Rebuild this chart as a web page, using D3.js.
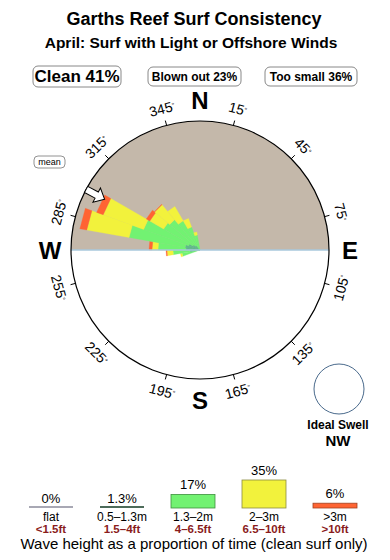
<!DOCTYPE html>
<html>
<head>
<meta charset="utf-8">
<script src="https://cdn.jsdelivr.net/npm/d3@7/dist/d3.min.js"></script>
<style>
  body { margin: 0; background: #fff; }
  svg { display: block; font-family: "Liberation Sans", Arial, Helvetica, sans-serif; }
</style>
</head>
<body>
<div id="chart"></div>
<script>
// wave height classes (legend)
const classNames = ['flat', '0.5\u20131.3m', '1.3\u20132m', '2\u20133m', '>3m'];
const feetNames = ['<1.5ft', '1.5\u20134ft', '4\u20136.5ft', '6.5\u201310ft', '>10ft'];
const classPct = [0, 1.3, 17, 35, 6];
const pctLabels = ['0%', '1.3%', '17%', '35%', '6%'];

// swell direction bins (deg) and % of time per height class
const directions = [255, 265, 275, 285, 295, 305, 315, 325, 335, 345];
const flatPct  = [0, 0, 0, 0, 0, 0, 0, 0, 0, 0];
const smallPct = [0, 0.15, 0.3, 0.34, 0.22, 0.1, 0.05, 0, 0, 0];
const midPct   = [0.5, 0.95, 2.35, 7.45, 5.19, 2.55, 2.3, 1.7, 0.9, 0.35];
const bigPct   = [0.1, 0.54, 0.81, 12.08, 10.53, 2.4, 2.9, 2.1, 0.8, 0.15];
const hugePct  = [0, 0.1, 0.45, 2.49, 2.24, 0.73, 0.1, 0, 0, 0];

const tickAngles = [15, 45, 75, 105, 135, 165, 195, 225, 255, 285, 315, 345];
const cardinals = [['N', 0], ['E', 90], ['S', 180], ['W', 270]];

const summary = [
    { text: 'Clean 41%', x: 33, w: 88, big: true },
    { text: 'Blown out 23%', x: 148, w: 93 },
    { text: 'Too small 36%', x: 265, w: 92 }
];
const meanDir = 298;
const idealSwell = 'NW';

const roseFill = ['#b0b0b8', '#5fb88c', '#72f272', '#f2f23c', '#ff6433'];
const legendStroke = ['#a8a8b4', '#4d6b5a', '#3f8f3f', '#8c8c40', '#a04020'];

const width = 390, height = 560;
const cx = 200, cy = 250, R = 129;
const rad = d => d * Math.PI / 180;

const svg = d3.select('#chart').append('svg')
    .attr('width', width)
    .attr('height', height);

// titles
svg.append('text')
    .attr('x', 194).attr('y', 25)
    .attr('text-anchor', 'middle')
    .style('font-size', '18px').style('font-weight', 'bold')
    .text('Garths Reef Surf Consistency');
svg.append('text')
    .attr('x', 191).attr('y', 48)
    .attr('text-anchor', 'middle')
    .style('font-size', '15.5px').style('font-weight', 'bold')
    .text('April: Surf with Light or Offshore Winds');

// summary boxes
let box = svg.selectAll('.summary')
    .data(summary)
    .enter().append('g')
    .attr('class', 'summary');
box.append('rect')
    .attr('x', d => d.x).attr('y', d => d.big ? 66 : 67)
    .attr('width', d => d.w).attr('height', d => d.big ? 21 : 19)
    .attr('rx', 5)
    .style('fill', 'white').style('stroke', '#888').style('stroke-width', 1);
box.append('text')
    .attr('x', d => d.x + d.w / 2).attr('y', d => d.big ? 82 : 81)
    .attr('text-anchor', 'middle')
    .style('font-size', d => d.big ? '17px' : '12px')
    .style('font-weight', 'bold')
    .text(d => d.text);

// rose
let g = svg.append('g').attr('transform', `translate(${cx},${cy})`);

g.append('path')
    .attr('d', `M${-R},0 A${R},${R} 0 0 1 ${R},0 Z`)
    .style('fill', '#c4b8aa');

let radius = d3.scaleSqrt().domain([0, 25]).range([0, R]);

let series = [flatPct, smallPct, midPct, bigPct, hugePct];
let segments = [];
directions.forEach((dir, i) => {
    let cum = 0;
    series.forEach((s, k) => {
        let v = s[i];
        if (v > 0) segments.push({ dir: dir, k: k, r0: cum, r1: cum + v });
        cum += v;
    });
});

let wedge = d3.lineRadial()
    .angle(p => rad(p[0]))
    .radius(p => radius(p[1]))
    .curve(d3.curveLinearClosed);

g.selectAll('.seg')
    .data(segments)
    .enter().append('path')
    .attr('class', 'seg')
    .attr('d', d => wedge([
        [d.dir - 5, d.r0], [d.dir - 5, d.r1],
        [d.dir + 5, d.r1], [d.dir + 5, d.r0]
    ]))
    .style('fill', d => roseFill[d.k])
    .style('stroke', d => roseFill[d.k])
    .style('stroke-width', 0.3);

// horizon
g.append('line')
    .attr('x1', -R).attr('x2', R)
    .attr('y1', 0).attr('y2', 0)
    .style('stroke', '#a8c8dc').style('stroke-width', 1.5);

g.append('circle')
    .attr('r', R)
    .style('fill', 'none').style('stroke', 'black').style('stroke-width', 1.2);

// mean direction arrow
let arrow = [[108, 0], [117, -8], [117, -3.5], [129, -3.5], [129, 3.5], [117, 3.5], [117, 8]];
g.append('path')
    .attr('d', d3.line()(arrow) + 'Z')
    .attr('transform', `rotate(${meanDir - 90})`)
    .style('fill', 'white').style('stroke', 'black').style('stroke-width', 1);

// degree ticks and labels
g.selectAll('.tick')
    .data(tickAngles)
    .enter().append('line')
    .attr('class', 'tick')
    .attr('x1', d => R * Math.sin(rad(d))).attr('y1', d => -R * Math.cos(rad(d)))
    .attr('x2', d => (R + 5) * Math.sin(rad(d))).attr('y2', d => -(R + 5) * Math.cos(rad(d)))
    .style('stroke', 'black').style('stroke-width', 1);

let lab = g.selectAll('.deg')
    .data(tickAngles)
    .enter().append('text')
    .attr('class', 'deg')
    .attr('transform', d => {
        let x = 146 * Math.sin(rad(d)), y = -146 * Math.cos(rad(d));
        let rot = (d > 90 && d < 270) ? d - 180 : (d > 180 ? d - 360 : d);
        return `translate(${x},${y}) rotate(${rot})`;
    })
    .attr('text-anchor', 'middle')
    .attr('dy', '0.35em')
    .style('font-size', '14px');
lab.append('tspan').text(d => d);
lab.append('tspan').attr('dy', '-0.45em').style('font-size', '7px').text('\u00b0');

g.selectAll('.card')
    .data(cardinals)
    .enter().append('text')
    .attr('class', 'card')
    .attr('x', d => 150 * Math.sin(rad(d[1])))
    .attr('y', d => -150 * Math.cos(rad(d[1])))
    .attr('dy', '0.36em')
    .attr('text-anchor', 'middle')
    .style('font-size', '24px')
    .style('font-weight', 'bold')
    .text(d => d[0]);

// mean tag
svg.append('rect')
    .attr('x', 34).attr('y', 156).attr('width', 31).attr('height', 12).attr('rx', 4)
    .style('fill', 'white').style('stroke', '#777').style('stroke-width', 0.8);
svg.append('text')
    .attr('x', 49.5).attr('y', 165).attr('text-anchor', 'middle')
    .style('font-size', '9px')
    .text('mean');

// ideal swell
svg.append('circle')
    .attr('cx', 339).attr('cy', 389).attr('r', 25)
    .style('fill', 'white').style('stroke', '#4a6a8c').style('stroke-width', 1);
svg.append('text')
    .attr('x', 338).attr('y', 429).attr('text-anchor', 'middle')
    .style('font-size', '12px').style('font-weight', 'bold')
    .text('Ideal Swell');
svg.append('text')
    .attr('x', 338).attr('y', 446).attr('text-anchor', 'middle')
    .style('font-size', '15px').style('font-weight', 'bold')
    .text(idealSwell);

// legend
let lx = d3.scalePoint().domain(classNames).range([51, 335]);
let lh = d3.scaleLinear().domain([0, 35]).range([0, 28]);
let base = 508, bw = 44;

let leg = svg.selectAll('.leg')
    .data(classNames)
    .enter().append('g')
    .attr('class', 'leg')
    .attr('transform', d => `translate(${lx(d)},0)`);

leg.each(function (d, i) {
    let el = d3.select(this);
    let h = lh(classPct[i]);
    if (h < 2) {
        el.append('line')
            .attr('x1', -bw / 2).attr('x2', bw / 2)
            .attr('y1', base - 1).attr('y2', base - 1)
            .style('stroke', legendStroke[i]).style('stroke-width', 2);
        h = 0;
    } else {
        el.append('rect')
            .attr('x', -bw / 2).attr('y', base - h)
            .attr('width', bw).attr('height', h)
            .style('fill', roseFill[i]).style('stroke', legendStroke[i]).style('stroke-width', 0.8);
    }
    el.append('text')
        .attr('y', base - h - 5).attr('text-anchor', 'middle')
        .style('font-size', '13px')
        .text(pctLabels[i]);
    el.append('text')
        .attr('y', 521).attr('text-anchor', 'middle')
        .style('font-size', '12px')
        .text(d);
    el.append('text')
        .attr('y', 533).attr('text-anchor', 'middle')
        .style('font-size', '11.5px').style('font-weight', 'bold')
        .style('fill', '#8a1c1c')
        .text(feetNames[i]);
});

svg.append('text')
    .attr('x', 194).attr('y', 549).attr('text-anchor', 'middle')
    .style('font-size', '15px')
    .text('Wave height as a proportion of time (clean surf only)');
</script>
</body>
</html>
